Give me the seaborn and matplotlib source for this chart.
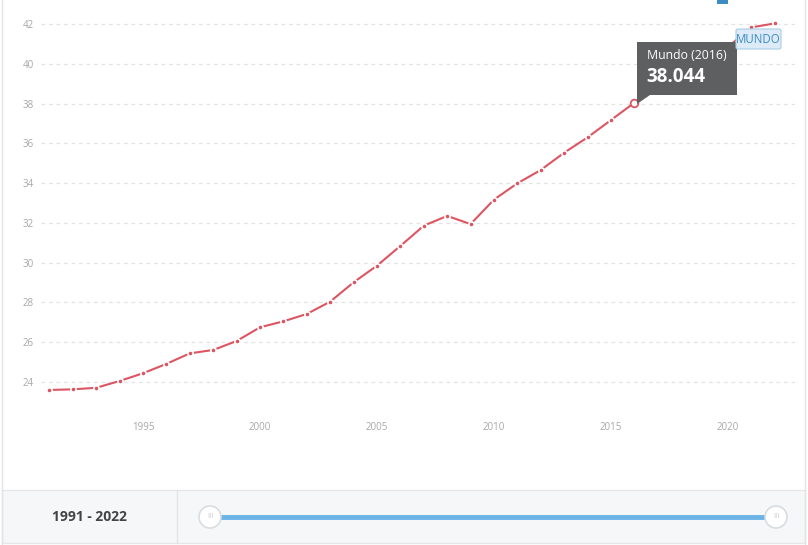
import matplotlib
matplotlib.use("Agg")
import matplotlib.pyplot as plt
import seaborn as sns
import pandas as pd
from matplotlib.patches import FancyBboxPatch, Rectangle, Ellipse, Polygon

# values (2017-2020 sit behind the tooltip, estimated)
years = list(range(1991, 2023))
values = [23.60, 23.63, 23.71, 24.05, 24.44, 24.91, 25.44, 25.61, 26.06, 26.75,
          27.05, 27.42, 28.04, 29.01, 29.85, 30.84, 31.86, 32.35, 31.94, 33.17,
          33.99, 34.66, 35.53, 36.30, 37.17, 38.044, 38.90, 39.70, 40.40, 40.85,
          41.83, 42.03]
y_ticks = [24, 26, 28, 30, 32, 34, 36, 38, 40, 42]
x_ticks = [1995, 2000, 2005, 2010, 2015, 2020]
series_name = "Mundo"
hover_year = 2016
range_label = "1991 - 2022"

LINE = "#dc5562"
GRID = "#e3e3e3"
TICK = "#a8a8a8"

df = pd.DataFrame({"year": years, "value": values})

sns.set_style("white")
plt.rcParams["font.family"] = ["Open Sans", "DejaVu Sans"]

W, H = 808, 545
fig = plt.figure(figsize=(W / 100, H / 100), dpi=100)

# axes: x 41..795 px, y 0..408 px
ax = fig.add_axes([41 / W, 1 - 408 / H, (795 - 41) / W, 408 / H])
ax.set_facecolor("none")

px_per_unit = 358 / 18
ax.set_ylim(42 - (408 - 24) / px_per_unit, 42 + 24 / px_per_unit)
px_per_year = 23.4
ax.set_xlim(1991 - (49.4 - 41) / px_per_year, 1991 + (795 - 49.4) / px_per_year)

for t in y_ticks:
    ax.axhline(t, color=GRID, lw=0.9, ls=(0, (3, 3)), zorder=0)

sns.lineplot(data=df, x="year", y="value", ax=ax, color=LINE, lw=1.5,
             marker="o", markersize=3.8, markeredgecolor="white",
             markeredgewidth=1.2, zorder=3)

# highlighted point
hv = values[years.index(hover_year)]
ax.plot([hover_year], [hv], marker="o", markersize=5.5, markerfacecolor="white",
        markeredgecolor=LINE, markeredgewidth=1.3, zorder=4)

ax.set_yticks(y_ticks)
ax.set_xticks(x_ticks)
ax.tick_params(axis="y", length=0, pad=5, labelsize=7, labelcolor=TICK)
ax.tick_params(axis="x", length=4, width=0.8, color="#cfcfcf", pad=6,
               labelsize=7, labelcolor=TICK, direction="out")
ax.set_xlabel("")
ax.set_ylabel("")
for s in ax.spines.values():
    s.set_visible(False)

# tooltip
tip_x0, tip_y0, tip_w, tip_h = 637, 42, 100, 53
fig.patches.append(Rectangle((tip_x0 / W, 1 - (tip_y0 + tip_h) / H), tip_w / W, tip_h / H,
                             transform=fig.transFigure, facecolor="#5e5f61",
                             edgecolor="none", zorder=10))
fig.patches.append(Polygon([(637 / W, 1 - 95 / H), (650 / W, 1 - 95 / H), (637 / W, 1 - 104 / H)],
                           closed=True, transform=fig.transFigure, facecolor="#5e5f61",
                           edgecolor="none", zorder=10))
fig.text(647 / W, 1 - 55 / H, f"{series_name} ({hover_year})", color="white",
         fontsize=8.8, va="center", ha="left", zorder=11)
fig.text(646 / W, 1 - 77 / H, f"{hv:.3f}", color="white", fontsize=13.5,
         fontweight="bold", va="center", ha="left", zorder=11)

# series label
fig.patches.append(FancyBboxPatch((736 / W, 1 - 49 / H), 45 / W, 20 / H,
                                  boxstyle="round,pad=0,rounding_size=0.003",
                                  transform=fig.transFigure, facecolor="#dcebf7",
                                  edgecolor="#a9cce6", lw=0.8, zorder=10))
fig.text(758.5 / W, 1 - 39 / H, series_name.upper(), color="#3d8cc4", fontsize=8.3,
         ha="center", va="center", zorder=11)

# small icon at the top
fig.patches.append(Rectangle((717 / W, 1 - 4 / H), 11 / W, 4 / H, transform=fig.transFigure,
                             facecolor="#3d8cc4", edgecolor="none"))

# outer frame
fig.add_artist(plt.Line2D([2 / W, 2 / W], [0, 1], color="#e4e4e4", lw=1))
fig.add_artist(plt.Line2D([805 / W, 805 / W], [0, 1], color="#e4e4e4", lw=1))

# bottom range panel
fig.patches.append(Rectangle((2 / W, 1 - 543 / H), 803 / W, 53 / H, transform=fig.transFigure,
                             facecolor="#f6f7f8", edgecolor="#e6e6e6", lw=1, zorder=1))
fig.add_artist(plt.Line2D([177 / W, 177 / W], [1 - 543 / H, 1 - 490 / H], color="#e4e4e4", lw=1))
fig.text(89 / W, 1 - 517 / H, range_label, color="#444444", fontsize=10,
         fontweight="bold", ha="center", va="center")

# slider
slider = plt.Line2D([210 / W, 776 / W], [1 - 517 / H, 1 - 517 / H],
                    color="#6cb4e6", lw=3.5, solid_capstyle="butt", zorder=2)
fig.add_artist(slider)
for hx in (210, 776):
    fig.add_artist(Ellipse((hx / W, 1 - 517 / H), 22 / W, 22 / H,
                           transform=fig.transFigure, facecolor="white",
                           edgecolor="#d8dde2", lw=1.2, zorder=3))
    fig.text(hx / W, 1 - 517 / H, "III", color="#c8c8c8", fontsize=5.5,
             ha="center", va="center", zorder=4)

fig.savefig("out.png", dpi=100)
